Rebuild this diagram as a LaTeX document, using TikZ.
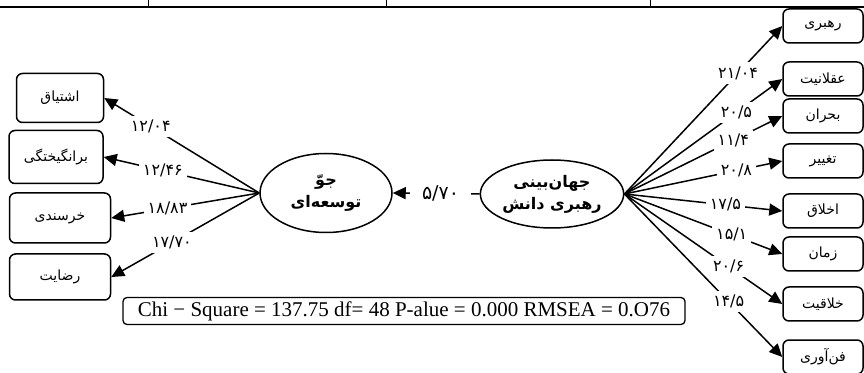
\documentclass[tikz,border=0pt]{standalone}
\usepackage{fontspec}
\usetikzlibrary{arrows.meta,shapes.geometric}
\TeXXeTstate=1
\newfontfamily\farsi[Script=Arabic]{DejaVu Sans}
\newfontfamily\timesfont{Liberation Serif}

\tikzset{
    itembox/.style={draw, line width=1.5pt, rounded corners=6pt, inner sep=2pt,
        font=\farsi\fontsize{14}{16}\selectfont},
    factor/.style={draw, ellipse, line width=1.5pt, align=center, inner sep=1pt,
        font=\farsi\bfseries\fontsize{16}{22}\selectfont},
    link/.style={line width=1.5pt, -{Triangle[length=13pt,width=12pt]}},
    coef/.style={fill=white, inner sep=4pt, font=\farsi\fontsize{16}{18}\selectfont}
}

\begin{document}
\begin{tikzpicture}[x=1pt,y=1pt]
    \useasboundingbox (0,0) rectangle (864,372);

    % table border at the top
    \draw[line width=1.3pt] (0,365) -- (864,365);
    \foreach \x in {148,386,650} {
        \draw[line width=1pt] (\x,365) -- (\x,372);
    }

    % latent factors
    \node[factor, minimum width=132pt, minimum height=79pt] (jav) at (326,179)
        {\beginR جوّ\endR\\\beginR توسعه‌ای\endR};
    \node[factor, minimum width=141pt, minimum height=68pt] (dan) at (552,178)
        {\beginR جهان‌بینی\endR\\\beginR رهبری دانش\endR};

    \draw[link] (dan.west) -- node[coef, pos=0.45, inner xsep=12pt, font=\farsi\fontsize{19}{21}\selectfont] {۵/۷۰} (jav.east);

    % indicators of the left factor
    \foreach \i/\x/\y/\w/\h/\name/\val/\p in {
        1/60/274/87/49/{اشتیاق}/{۱۲/۰۴}/0.70,
        2/56/215/94/53/{برانگیختگی}/{۱۲/۴۶}/0.62,
        3/60/154/101/50/{خرسندی}/{۱۸/۸۳}/0.62,
        4/60/95/101/46/{رضایت}/{۱۷/۷۰}/0.59
    } {
        \node[itembox, minimum width=\w pt, minimum height=\h pt] (l\i) at (\x,\y)
            {\beginR\name\endR};
        \draw[link] (jav.west) -- node[coef, pos=\p] {\val} (l\i.east);
    }

    % indicators of the right factor
    \foreach \i/\y/\name/\val/\p in {
        1/346/{رهبری}/{۲۱/۰۴}/0.72,
        2/293/{عقلانیت}/{۲۰/۵}/0.71,
        3/256/{بحران}/{۱۱/۴}/0.69,
        4/211/{تغییر}/{۲۰/۸}/0.71,
        5/161/{اخلاق}/{۱۷/۵}/0.64,
        6/118/{زمان}/{۱۵/۱}/0.68,
        7/68/{خلاقیت}/{۲۰/۶}/0.66,
        8/15/{فن‌آوری}/{۱۴/۵}/0.66
    } {
        \node[itembox, minimum width=80pt, minimum height=34pt] (r\i) at (823,\y)
            {\beginR\name\endR};
        \draw[link] (dan.east) -- node[coef, pos=\p] {\val} (r\i.west);
    }

    % fit indices
    \node[draw, line width=1.3pt, rounded corners=4pt, minimum width=562pt,
        minimum height=27pt, font=\timesfont\fontsize{21}{24}\selectfont] (fit) at (404,61)
        {Chi − Square = 137.75 df= 48 P-alue = 0.000 RMSEA = 0.O76};
\end{tikzpicture}
\end{document}
